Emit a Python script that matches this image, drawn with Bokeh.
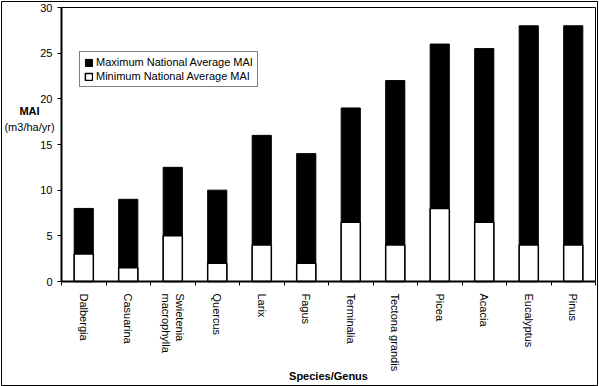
import math
from bokeh.plotting import figure
from bokeh.models import (ColumnDataSource, LinearAxis, FixedTicker, Range1d,
                          Legend, LegendItem, Label)
from bokeh.embed import file_html
from bokeh.resources import INLINE

species = ["Dalbergia", "Casuarina", "Swietenia\nmacrophylla", "Quercus", "Larix",
           "Fagus", "Terminalia", "Tectona  grandis", "Picea", "Acacia",
           "Eucalyptus", "Pinus"]
max_mai = [8, 9, 12.5, 10, 16, 14, 19, 22, 26, 25.5, 28, 28]
min_mai = [3, 1.5, 5, 2, 4, 2, 6.5, 4, 8, 6.5, 4, 4]
y_ticks = [0, 5, 10, 15, 20, 25, 30]
x_title = "Species/Genus"
y_title = "MAI"
y_units = "(m3/ha/yr)"
series_names = ["Maximum National Average MAI", "Minimum National Average MAI"]

FONT = "Liberation Sans"

# ---- layout (pixels on the canvas) ----
W, H = 599, 386
B_L, B_T, B_R, B_B = 1, 1, 2, 1   # frame outline = outer border of the chart
AXIS_X = 61                       # canvas x of the value axis
PLOT_R = 595                      # canvas x of right end of category axis
PLOT_T = 7                        # canvas y of top value
AXIS_Y = 281                      # canvas y of the category axis (value 0)

n = len(species)
ymax = y_ticks[-1]
xs = [i + 0.5 for i in range(n)]
bounds = list(range(n + 1))

px_x = (PLOT_R - AXIS_X) / n
px_y = (AXIS_Y - PLOT_T) / ymax
x_start = -(AXIS_X - B_L) / px_x
x_end = n + ((W - B_R) - PLOT_R) / px_x
y_start = -((H - B_B) - AXIS_Y) / px_y
y_end = ymax + (PLOT_T - B_T) / px_y

src = ColumnDataSource(dict(x=xs, top_max=max_mai, top_min=min_mai))

p = figure(width=W, height=H, output_backend="svg", toolbar_location=None,
           x_range=Range1d(x_start, x_end), y_range=Range1d(y_start, y_end),
           x_axis_type=None, y_axis_type=None,
           min_border_left=B_L, min_border_right=B_R,
           min_border_top=B_T, min_border_bottom=B_B,
           background_fill_color="white", border_fill_color="white",
           outline_line_color="black", outline_line_width=1)
p.xgrid.visible = False
p.ygrid.visible = False

r_max = p.vbar(x="x", top="top_max", bottom=0, width=0.43, source=src,
               fill_color="black", line_color="black", line_width=1)
r_min = p.vbar(x="x", top="top_min", bottom=0, width=0.43, source=src,
               fill_color="white", line_color="black", line_width=1.5)

# value axis
yax = LinearAxis(ticker=FixedTicker(ticks=y_ticks), fixed_location=0,
                 bounds=(0, ymax))
yax.axis_line_color = "black"
yax.axis_line_width = 2
yax.major_tick_out = 4
yax.major_tick_in = 0
yax.major_tick_line_color = "black"
yax.minor_tick_line_color = None
yax.major_label_standoff = 5
yax.major_label_text_font = FONT
yax.major_label_text_font_size = "11px"
yax.major_label_text_color = "black"
p.add_layout(yax, "left")

# category axis: labels at centres, tick marks at boundaries
xax = LinearAxis(ticker=FixedTicker(ticks=xs, minor_ticks=bounds),
                 fixed_location=0, bounds=(0, n),
                 major_label_overrides={x: s for x, s in zip(xs, species)})
xax.axis_line_color = "black"
xax.axis_line_width = 2
xax.major_tick_line_color = None
xax.major_tick_out = 0
xax.major_tick_in = 0
xax.minor_tick_line_color = "black"
xax.minor_tick_line_width = 1
xax.minor_tick_out = 4
xax.minor_tick_in = 0
xax.major_label_standoff = 8
xax.major_label_orientation = -math.pi / 2
xax.major_label_text_font = FONT
xax.major_label_text_font_size = "11px"
xax.major_label_text_color = "black"
p.add_layout(xax, "below")

# top and right edges of the plot area
tax = LinearAxis(ticker=FixedTicker(ticks=[]), fixed_location=ymax, bounds=(0, n))
tax.axis_line_color = "black"
tax.axis_line_width = 1
tax.major_tick_line_color = None
tax.minor_tick_line_color = None
p.add_layout(tax, "above")

rax = LinearAxis(ticker=FixedTicker(ticks=[]), fixed_location=n, bounds=(0, ymax))
rax.axis_line_color = "black"
rax.axis_line_width = 1
rax.major_tick_line_color = None
rax.minor_tick_line_color = None
p.add_layout(rax, "right")

# titles
y_lab_x = -32 / px_x
p.add_layout(Label(x=y_lab_x, y=(AXIS_Y - 110) / px_y, text=y_title,
                   text_align="center", text_baseline="middle", text_font=FONT,
                   text_font_size="11px", text_font_style="bold",
                   text_color="black"))
p.add_layout(Label(x=y_lab_x, y=(AXIS_Y - 126) / px_y, text=y_units,
                   text_align="center", text_baseline="middle", text_font=FONT,
                   text_font_size="11px", text_color="black"))
p.add_layout(Label(x=n / 2, y=-(375 - AXIS_Y) / px_y, text=x_title,
                   text_align="center", text_baseline="middle", text_font=FONT,
                   text_font_size="11px", text_font_style="bold",
                   text_color="black"))

legend = Legend(items=[LegendItem(label=series_names[0], renderers=[r_max]),
                       LegendItem(label=series_names[1], renderers=[r_min])],
                location=(79 - B_L, (H - B_B) - 87))
legend.border_line_color = "black"
legend.border_line_width = 1
legend.background_fill_color = "white"
legend.background_fill_alpha = 1
legend.padding = 4
legend.spacing = 2
legend.margin = 0
legend.glyph_width = 9
legend.glyph_height = 9
legend.label_height = 11
legend.label_standoff = 3
legend.label_text_font = FONT
legend.label_text_font_size = "11px"
legend.label_text_color = "black"
p.add_layout(legend)

open("out.html", "w").write(file_html(p, INLINE))
